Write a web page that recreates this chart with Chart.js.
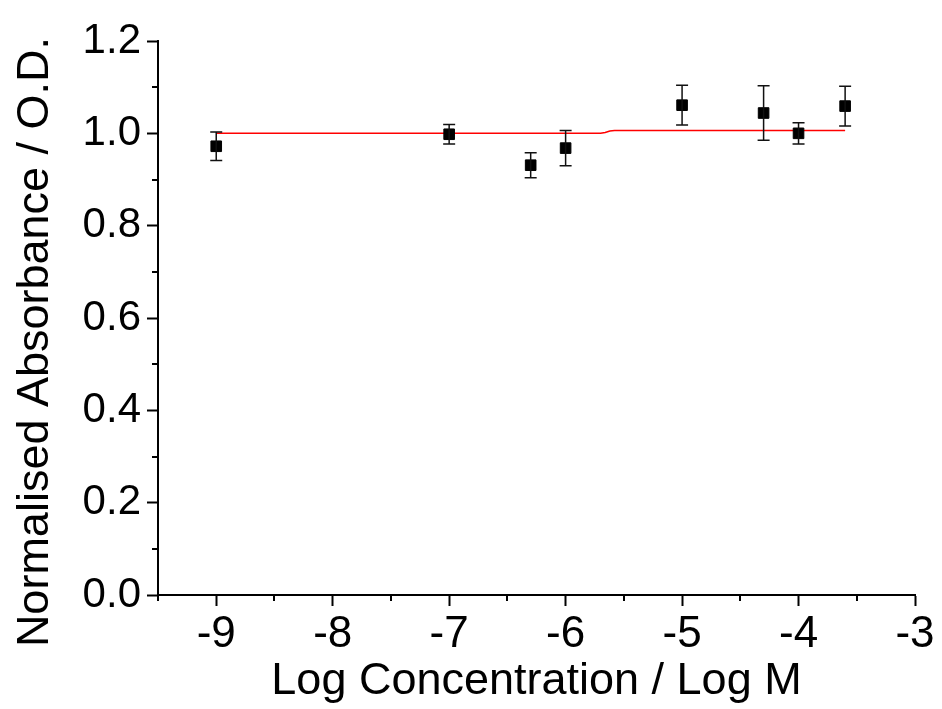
<!DOCTYPE html>
<html>
<head>
<meta charset="utf-8">
<title>Normalised Absorbance</title>
<script src="https://cdn.jsdelivr.net/npm/chart.js@4.4.1/dist/chart.umd.min.js"></script>
<style>
  html, body { margin: 0; padding: 0; background: #fff; }
  #wrap { width: 942px; height: 709px; }
</style>
</head>
<body>
<div id="wrap"><canvas id="chart"></canvas></div>
<script>
// measured points (log M), normalised OD and error
const logConc = [-9, -7, -6.3, -6, -5, -4.3, -4, -3.6];
const absorbance = [0.972, 0.998, 0.931, 0.968, 1.061, 1.044, 1.0, 1.059];
const errors = [0.031, 0.021, 0.027, 0.038, 0.043, 0.059, 0.023, 0.043];

// fitted curve (red)
const fitX = [-9, -5.7, -5.66, -5.62, -5.58, -3.6];
const fitY = [1.0, 1.0, 1.002, 1.005, 1.006, 1.006];

const xTitle = 'Log Concentration / Log M';
const yTitle = 'Normalised Absorbance / O.D.';

const FONT = "'Liberation Sans', Arial, sans-serif";

const isMajorX = v => Math.abs(v - Math.round(v)) < 1e-6;
const isMajorY = v => Math.round(v * 10) % 2 === 0;

// error bars, short minor ticks and the y title
const extras = {
    id: 'extras',
    afterDatasetsDraw(chart) {
        const ctx = chart.ctx;
        const xs = chart.scales.x;
        const ys = chart.scales.y;
        ctx.save();
        ctx.strokeStyle = '#111';
        ctx.lineWidth = 1.5;
        logConc.forEach((x, i) => {
            const px = xs.getPixelForValue(x);
            const top = ys.getPixelForValue(absorbance[i] + errors[i]);
            const bot = ys.getPixelForValue(absorbance[i] - errors[i]);
            ctx.beginPath();
            ctx.moveTo(px, top); ctx.lineTo(px, bot);
            ctx.moveTo(px - 6, top); ctx.lineTo(px + 6, top);
            ctx.moveTo(px - 6, bot); ctx.lineTo(px + 6, bot);
            ctx.stroke();
        });
        ctx.restore();
    },
    afterDraw(chart) {
        const ctx = chart.ctx;
        const xs = chart.scales.x;
        const ys = chart.scales.y;
        const area = chart.chartArea;
        ctx.save();
        ctx.strokeStyle = '#000';
        ctx.lineWidth = 2;
        ctx.beginPath();
        xs.ticks.forEach(t => {
            if (isMajorX(t.value)) return;
            const px = Math.round(xs.getPixelForValue(t.value));
            ctx.moveTo(px, area.bottom); ctx.lineTo(px, area.bottom + 6);
        });
        ys.ticks.forEach(t => {
            if (isMajorY(t.value)) return;
            const py = Math.round(ys.getPixelForValue(t.value));
            ctx.moveTo(area.left, py); ctx.lineTo(area.left - 6, py);
        });
        ctx.stroke();

        // y axis title, placed like the original (a bit below the axis centre)
        ctx.translate(48, 342);
        ctx.rotate(-Math.PI / 2);
        ctx.fillStyle = '#000';
        ctx.font = '45px ' + FONT;
        ctx.textAlign = 'center';
        ctx.textBaseline = 'alphabetic';
        ctx.fillText(yTitle, 0, 0);
        ctx.restore();
    }
};

new Chart(document.getElementById('chart'), {
    type: 'scatter',
    data: {
        datasets: [
            {
                label: 'fit',
                type: 'line',
                data: fitX.map((x, i) => ({ x: x, y: fitY[i] })),
                borderColor: '#ff0000',
                borderWidth: 1.5,
                pointRadius: 0,
                tension: 0,
                fill: false,
                order: 2
            },
            {
                label: 'data',
                data: logConc.map((x, i) => ({ x: x, y: absorbance[i] })),
                pointStyle: 'rect',
                pointRadius: 7.5,
                backgroundColor: '#000',
                borderColor: '#000',
                borderWidth: 1,
                order: 1
            }
        ]
    },
    options: {
        responsive: true,
        maintainAspectRatio: false,
        animation: false,
        layout: { padding: { left: 0, right: 27, top: 41, bottom: 0 } },
        plugins: {
            legend: { display: false },
            tooltip: { enabled: false }
        },
        scales: {
            x: {
                type: 'linear',
                min: -9.5,
                max: -3,
                afterFit: s => { s.height = 114; },
                border: { display: true, color: '#000', width: 2 },
                grid: {
                    drawOnChartArea: false,
                    drawTicks: true,
                    tickLength: 11,
                    tickWidth: 2,
                    tickColor: c => isMajorX(c.tick.value) ? '#000' : 'rgba(0,0,0,0)'
                },
                ticks: {
                    stepSize: 0.5,
                    autoSkip: false,
                    maxRotation: 0,
                    padding: 2,
                    color: '#000',
                    font: { family: FONT, size: 44 },
                    callback: v => isMajorX(v) ? String(Math.round(v)) : ''
                },
                title: {
                    display: true,
                    text: xTitle,
                    color: '#000',
                    font: { family: FONT, size: 45 },
                    padding: 0
                }
            },
            y: {
                type: 'linear',
                min: 0,
                max: 1.2,
                afterFit: s => { s.width = 158; },
                border: { display: true, color: '#000', width: 2 },
                grid: {
                    drawOnChartArea: false,
                    drawTicks: true,
                    tickLength: 11,
                    tickWidth: 2,
                    tickColor: c => isMajorY(c.tick.value) ? '#000' : 'rgba(0,0,0,0)'
                },
                ticks: {
                    stepSize: 0.1,
                    autoSkip: false,
                    padding: 6,
                    color: '#000',
                    font: { family: FONT, size: 42 },
                    callback: v => isMajorY(v) ? v.toFixed(1) : ''
                },
                title: { display: false }
            }
        }
    },
    plugins: [extras]
});
</script>
</body>
</html>
